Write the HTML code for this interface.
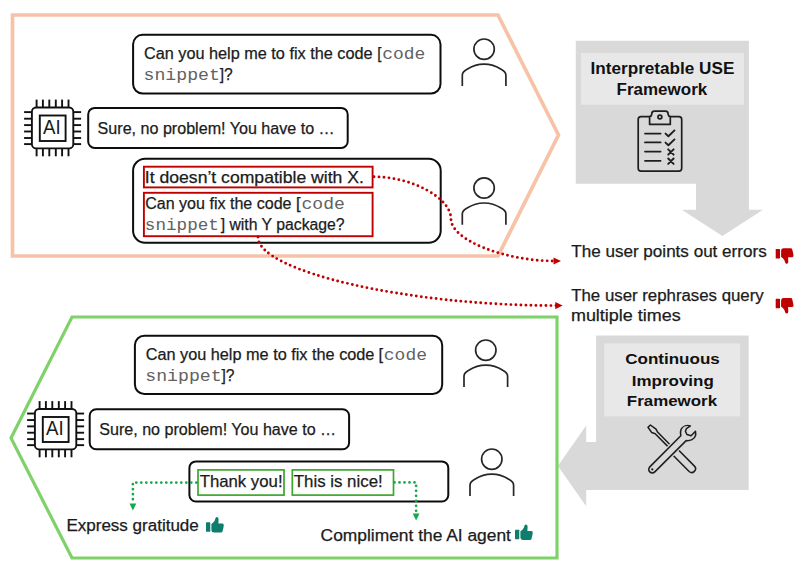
<!DOCTYPE html>
<html><head><meta charset="utf-8"><title>Interpretable USE Framework</title>
<style>
html,body{margin:0;padding:0;background:#fff;}
body{width:802px;height:571px;overflow:hidden;font-family:"Liberation Sans", sans-serif;}
svg{display:block;}
</style></head><body>
<svg width="802" height="571" viewBox="0 0 802 571">
<rect width="802" height="571" fill="#fff"/>
<polygon points="575.8,40.8 748.9,40.8 748.9,209.8 763,209.8 722.4,236 681.8,209.8 696,209.8 696,183.8 575.8,183.8" fill="#D9D9D9"/>
<rect x="580.9" y="52.9" width="163" height="51.8" fill="#E8E8E8"/>
<polygon points="596.1,335.4 748.7,335.4 748.7,489.9 586.2,489.9 586.2,506.3 557.9,465.9 586.2,425.5 586.2,442.1 596.1,442.1" fill="#D9D9D9"/>
<rect x="604.2" y="343.4" width="135.8" height="73" fill="#E8E8E8"/>
<polygon points="12.5,15 498,15 558.5,135 498,256 12.5,256" fill="none" stroke="#F6C3A8" stroke-width="3.7"/>
<polygon points="72,317 557,317 557,558 72,558 11,438" fill="none" stroke="#7FD26A" stroke-width="3.2"/>
<rect x="133.1" y="34.8" width="307.40" height="58.70" rx="9.5" fill="#fff" stroke="#0d0d0d" stroke-width="2"/>
<rect x="88.2" y="107.9" width="259.50" height="40.00" rx="6.5" fill="#fff" stroke="#0d0d0d" stroke-width="2"/>
<rect x="133.1" y="158.8" width="307.60" height="84.00" rx="12" fill="#fff" stroke="#0d0d0d" stroke-width="2"/>
<rect x="134.9" y="335.7" width="307.30" height="58.40" rx="9.5" fill="#fff" stroke="#0d0d0d" stroke-width="2"/>
<rect x="89.7" y="409.2" width="259.40" height="40.10" rx="6.5" fill="#fff" stroke="#0d0d0d" stroke-width="2"/>
<rect x="189.4" y="461.4" width="258.90" height="40.10" rx="6.5" fill="#fff" stroke="#0d0d0d" stroke-width="2"/>
<rect x="143.9" y="166.7" width="228.70" height="20.70" fill="none" stroke="#C00000" stroke-width="1.9"/>
<rect x="143.9" y="192.8" width="228.70" height="43.40" fill="none" stroke="#C00000" stroke-width="1.9"/>
<rect x="198" y="469.9" width="86.00" height="25.20" fill="none" stroke="#3CA62E" stroke-width="1.7"/>
<rect x="292.3" y="469.9" width="101.20" height="25.20" fill="none" stroke="#3CA62E" stroke-width="1.7"/>
<g stroke="#111" fill="none" stroke-width="1.9"><rect x="31.9" y="107.5" width="41.4" height="40.9" rx="4.2"/><rect x="39.8" y="115.5" width="25.80" height="25.50"/><line x1="36.60" y1="99.6" x2="36.60" y2="107.5"/><line x1="36.60" y1="148.4" x2="36.60" y2="156.3"/><line x1="42.90" y1="99.6" x2="42.90" y2="107.5"/><line x1="42.90" y1="148.4" x2="42.90" y2="156.3"/><line x1="49.30" y1="99.6" x2="49.30" y2="107.5"/><line x1="49.30" y1="148.4" x2="49.30" y2="156.3"/><line x1="55.80" y1="99.6" x2="55.80" y2="107.5"/><line x1="55.80" y1="148.4" x2="55.80" y2="156.3"/><line x1="62.10" y1="99.6" x2="62.10" y2="107.5"/><line x1="62.10" y1="148.4" x2="62.10" y2="156.3"/><line x1="68.50" y1="99.6" x2="68.50" y2="107.5"/><line x1="68.50" y1="148.4" x2="68.50" y2="156.3"/><line x1="24.099999999999998" y1="112.10" x2="31.9" y2="112.10"/><line x1="73.3" y1="112.10" x2="81.1" y2="112.10"/><line x1="24.099999999999998" y1="118.70" x2="31.9" y2="118.70"/><line x1="73.3" y1="118.70" x2="81.1" y2="118.70"/><line x1="24.099999999999998" y1="125.10" x2="31.9" y2="125.10"/><line x1="73.3" y1="125.10" x2="81.1" y2="125.10"/><line x1="24.099999999999998" y1="131.50" x2="31.9" y2="131.50"/><line x1="73.3" y1="131.50" x2="81.1" y2="131.50"/><line x1="24.099999999999998" y1="138.00" x2="31.9" y2="138.00"/><line x1="73.3" y1="138.00" x2="81.1" y2="138.00"/><line x1="24.099999999999998" y1="144.10" x2="31.9" y2="144.10"/><line x1="73.3" y1="144.10" x2="81.1" y2="144.10"/></g><text x="43.00" y="133.60" font-family='"Liberation Sans", sans-serif' font-size="19.8" fill="#1a1a1a" textLength="17.67" lengthAdjust="spacingAndGlyphs" >AI</text>
<g stroke="#111" fill="none" stroke-width="1.9"><rect x="34.9" y="409" width="41.4" height="40.4" rx="4.2"/><rect x="42.8" y="417" width="25.80" height="25.00"/><line x1="39.60" y1="401.1" x2="39.60" y2="409"/><line x1="39.60" y1="449.4" x2="39.60" y2="457.29999999999995"/><line x1="45.90" y1="401.1" x2="45.90" y2="409"/><line x1="45.90" y1="449.4" x2="45.90" y2="457.29999999999995"/><line x1="52.30" y1="401.1" x2="52.30" y2="409"/><line x1="52.30" y1="449.4" x2="52.30" y2="457.29999999999995"/><line x1="58.80" y1="401.1" x2="58.80" y2="409"/><line x1="58.80" y1="449.4" x2="58.80" y2="457.29999999999995"/><line x1="65.10" y1="401.1" x2="65.10" y2="409"/><line x1="65.10" y1="449.4" x2="65.10" y2="457.29999999999995"/><line x1="71.50" y1="401.1" x2="71.50" y2="409"/><line x1="71.50" y1="449.4" x2="71.50" y2="457.29999999999995"/><line x1="27.099999999999998" y1="413.55" x2="34.9" y2="413.55"/><line x1="76.3" y1="413.55" x2="84.1" y2="413.55"/><line x1="27.099999999999998" y1="420.06" x2="34.9" y2="420.06"/><line x1="76.3" y1="420.06" x2="84.1" y2="420.06"/><line x1="27.099999999999998" y1="426.38" x2="34.9" y2="426.38"/><line x1="76.3" y1="426.38" x2="84.1" y2="426.38"/><line x1="27.099999999999998" y1="432.71" x2="34.9" y2="432.71"/><line x1="76.3" y1="432.71" x2="84.1" y2="432.71"/><line x1="27.099999999999998" y1="439.13" x2="34.9" y2="439.13"/><line x1="76.3" y1="439.13" x2="84.1" y2="439.13"/><line x1="27.099999999999998" y1="445.15" x2="34.9" y2="445.15"/><line x1="76.3" y1="445.15" x2="84.1" y2="445.15"/></g><text x="46.00" y="435.10" font-family='"Liberation Sans", sans-serif' font-size="19.8" fill="#1a1a1a" textLength="17.67" lengthAdjust="spacingAndGlyphs" >AI</text>
<g fill="none" stroke="#262626" stroke-width="1.7"><circle cx="484.1" cy="49.2" r="10.2"/><path d="M462.3,86.0 V75.2 Q462.3,71.7 467.1,69.2 Q475.1,64.2 484.1,64.2 Q493.1,64.2 501.1,69.2 Q505.90000000000003,71.7 505.90000000000003,75.2 V86.0"/></g>
<g fill="none" stroke="#262626" stroke-width="1.7"><circle cx="484.1" cy="188" r="10.2"/><path d="M462.3,224.8 V214 Q462.3,210.5 467.1,208 Q475.1,203 484.1,203 Q493.1,203 501.1,208 Q505.90000000000003,210.5 505.90000000000003,214 V224.8"/></g>
<g fill="none" stroke="#262626" stroke-width="1.7"><circle cx="485.8" cy="350.2" r="10.2"/><path d="M464.0,387.0 V376.2 Q464.0,372.7 468.8,370.2 Q476.8,365.2 485.8,365.2 Q494.8,365.2 502.8,370.2 Q507.6,372.7 507.6,376.2 V387.0"/></g>
<g fill="none" stroke="#262626" stroke-width="1.7"><circle cx="491.8" cy="459.2" r="10.2"/><path d="M470.0,496.0 V485.2 Q470.0,481.7 474.8,479.2 Q482.8,474.2 491.8,474.2 Q500.8,474.2 508.8,479.2 Q513.6,481.7 513.6,485.2 V496.0"/></g>
<text x="143.99" y="58.60" font-family='"Liberation Sans", sans-serif' font-size="16" stroke="#1b1b1b" stroke-width="0.25" fill="#1b1b1b" textLength="228.53" lengthAdjust="spacingAndGlyphs" >Can you help me to fix the code</text>
<text x="377.35" y="58.60" font-family='"Liberation Sans", sans-serif' font-size="16" stroke="#1b1b1b" stroke-width="0.25" fill="#1b1b1b" textLength="4.17" lengthAdjust="spacingAndGlyphs" >[</text>
<text x="382.23" y="58.60" font-family='"Liberation Mono", monospace' font-size="17" fill="#626262" textLength="43.04" lengthAdjust="spacingAndGlyphs" >code</text>
<text x="143.55" y="80.20" font-family='"Liberation Mono", monospace' font-size="17" fill="#626262" textLength="76.37" lengthAdjust="spacingAndGlyphs" >snippet</text>
<text x="219.72" y="80.20" font-family='"Liberation Sans", sans-serif' font-size="16" stroke="#1b1b1b" stroke-width="0.25" fill="#1b1b1b" textLength="13.01" lengthAdjust="spacingAndGlyphs" >]?</text>
<text x="97.58" y="134.00" font-family='"Liberation Sans", sans-serif' font-size="16" stroke="#1b1b1b" stroke-width="0.25" fill="#1b1b1b" textLength="237.13" lengthAdjust="spacingAndGlyphs" >Sure, no problem! You have to …</text>
<text x="144.82" y="182.60" font-family='"Liberation Sans", sans-serif' font-size="16.5" stroke="#1b1b1b" stroke-width="0.25" fill="#1b1b1b" textLength="219.08" lengthAdjust="spacingAndGlyphs" >It doesn’t compatible with X.</text>
<text x="145.20" y="208.50" font-family='"Liberation Sans", sans-serif' font-size="16" stroke="#1b1b1b" stroke-width="0.25" fill="#1b1b1b" textLength="146.35" lengthAdjust="spacingAndGlyphs" >Can you fix the code</text>
<text x="296.14" y="208.50" font-family='"Liberation Sans", sans-serif' font-size="16" stroke="#1b1b1b" stroke-width="0.25" fill="#1b1b1b" textLength="4.58" lengthAdjust="spacingAndGlyphs" >[</text>
<text x="301.53" y="208.50" font-family='"Liberation Mono", monospace' font-size="17" fill="#626262" textLength="43.35" lengthAdjust="spacingAndGlyphs" >code</text>
<text x="144.89" y="230.30" font-family='"Liberation Mono", monospace' font-size="17" fill="#626262" textLength="73.97" lengthAdjust="spacingAndGlyphs" >snippet</text>
<text x="220.72" y="230.30" font-family='"Liberation Sans", sans-serif' font-size="16" stroke="#1b1b1b" stroke-width="0.25" fill="#1b1b1b" textLength="123.87" lengthAdjust="spacingAndGlyphs" >] with Y package?</text>
<text x="145.69" y="359.60" font-family='"Liberation Sans", sans-serif' font-size="16" stroke="#1b1b1b" stroke-width="0.25" fill="#1b1b1b" textLength="228.73" lengthAdjust="spacingAndGlyphs" >Can you help me to fix the code</text>
<text x="378.64" y="359.60" font-family='"Liberation Sans", sans-serif' font-size="16" stroke="#1b1b1b" stroke-width="0.25" fill="#1b1b1b" textLength="4.58" lengthAdjust="spacingAndGlyphs" >[</text>
<text x="383.83" y="359.60" font-family='"Liberation Mono", monospace' font-size="17" fill="#626262" textLength="43.14" lengthAdjust="spacingAndGlyphs" >code</text>
<text x="145.24" y="381.10" font-family='"Liberation Mono", monospace' font-size="17" fill="#626262" textLength="76.48" lengthAdjust="spacingAndGlyphs" >snippet</text>
<text x="221.52" y="381.10" font-family='"Liberation Sans", sans-serif' font-size="16" stroke="#1b1b1b" stroke-width="0.25" fill="#1b1b1b" textLength="13.01" lengthAdjust="spacingAndGlyphs" >]?</text>
<text x="99.28" y="435.00" font-family='"Liberation Sans", sans-serif' font-size="16" stroke="#1b1b1b" stroke-width="0.25" fill="#1b1b1b" textLength="236.93" lengthAdjust="spacingAndGlyphs" >Sure, no problem! You have to …</text>
<text x="199.66" y="487.40" font-family='"Liberation Sans", sans-serif' font-size="17" stroke="#1b1b1b" stroke-width="0.25" fill="#1b1b1b" textLength="82.88" lengthAdjust="spacingAndGlyphs" >Thank you!</text>
<text x="293.76" y="487.40" font-family='"Liberation Sans", sans-serif' font-size="17" stroke="#1b1b1b" stroke-width="0.25" fill="#1b1b1b" textLength="88.93" lengthAdjust="spacingAndGlyphs" >This is nice!</text>
<text x="66.44" y="531.40" font-family='"Liberation Sans", sans-serif' font-size="16" stroke="#1b1b1b" stroke-width="0.25" fill="#1b1b1b" textLength="132.36" lengthAdjust="spacingAndGlyphs" >Express gratitude</text>
<text x="320.63" y="540.90" font-family='"Liberation Sans", sans-serif' font-size="16" stroke="#1b1b1b" stroke-width="0.25" fill="#1b1b1b" textLength="190.27" lengthAdjust="spacingAndGlyphs" >Compliment the AI agent</text>
<text x="571.26" y="257.20" font-family='"Liberation Sans", sans-serif' font-size="16" stroke="#1b1b1b" stroke-width="0.25" fill="#1b1b1b" textLength="195.44" lengthAdjust="spacingAndGlyphs" >The user points out errors</text>
<text x="571.26" y="300.60" font-family='"Liberation Sans", sans-serif' font-size="16" stroke="#1b1b1b" stroke-width="0.25" fill="#1b1b1b" textLength="192.45" lengthAdjust="spacingAndGlyphs" >The user rephrases query</text>
<text x="570.93" y="321.20" font-family='"Liberation Sans", sans-serif' font-size="16" stroke="#1b1b1b" stroke-width="0.25" fill="#1b1b1b" textLength="109.76" lengthAdjust="spacingAndGlyphs" >multiple times</text>
<text x="590.59" y="73.60" font-family='"Liberation Sans", sans-serif' font-size="15.6" font-weight="bold" fill="#111" textLength="143.74" lengthAdjust="spacingAndGlyphs" >Interpretable USE</text>
<text x="616.60" y="94.80" font-family='"Liberation Sans", sans-serif' font-size="15.6" font-weight="bold" fill="#111" textLength="90.61" lengthAdjust="spacingAndGlyphs" >Framework</text>
<text x="625.22" y="363.90" font-family='"Liberation Sans", sans-serif' font-size="15.5" font-weight="bold" fill="#111" textLength="94.55" lengthAdjust="spacingAndGlyphs" >Continuous</text>
<text x="631.80" y="385.50" font-family='"Liberation Sans", sans-serif' font-size="15.5" font-weight="bold" fill="#111" textLength="81.98" lengthAdjust="spacingAndGlyphs" >Improving</text>
<text x="626.80" y="406.40" font-family='"Liberation Sans", sans-serif' font-size="15.5" font-weight="bold" fill="#111" textLength="90.31" lengthAdjust="spacingAndGlyphs" >Framework</text>
<g fill="#C00000" transform="translate(775.7,248)"><rect x="0" y="1" width="4.3" height="9.5" rx="0.6"/><path d="M5.4,2.6 Q5.4,0.2 7.9,0.2 L15.4,0.2 Q16.3,0.4 16.6,1.8 L17.3,4.6 L17.8,7.6 Q17.8,9.2 16.4,9.3 L12.4,9.3 L12.6,13.9 Q12.4,15.8 10.7,15.8 Q9.6,15.6 9.4,14.2 Q8.9,11.6 7.2,10.2 L5.4,8.9 Z"/></g>
<g fill="#C00000" transform="translate(775.7,297.8)"><rect x="0" y="1" width="4.3" height="9.5" rx="0.6"/><path d="M5.4,2.6 Q5.4,0.2 7.9,0.2 L15.4,0.2 Q16.3,0.4 16.6,1.8 L17.3,4.6 L17.8,7.6 Q17.8,9.2 16.4,9.3 L12.4,9.3 L12.6,13.9 Q12.4,15.8 10.7,15.8 Q9.6,15.6 9.4,14.2 Q8.9,11.6 7.2,10.2 L5.4,8.9 Z"/></g>
<g fill="#0E7D6C" transform="translate(206,532.8) scale(1,-1)"><rect x="0" y="1" width="4.3" height="9.5" rx="0.6"/><path d="M5.4,2.6 Q5.4,0.2 7.9,0.2 L15.4,0.2 Q16.3,0.4 16.6,1.8 L17.3,4.6 L17.8,7.6 Q17.8,9.2 16.4,9.3 L12.4,9.3 L12.6,13.9 Q12.4,15.8 10.7,15.8 Q9.6,15.6 9.4,14.2 Q8.9,11.6 7.2,10.2 L5.4,8.9 Z"/></g>
<g fill="#0E7D6C" transform="translate(515,540.2) scale(1,-1)"><rect x="0" y="1" width="4.3" height="9.5" rx="0.6"/><path d="M5.4,2.6 Q5.4,0.2 7.9,0.2 L15.4,0.2 Q16.3,0.4 16.6,1.8 L17.3,4.6 L17.8,7.6 Q17.8,9.2 16.4,9.3 L12.4,9.3 L12.6,13.9 Q12.4,15.8 10.7,15.8 Q9.6,15.6 9.4,14.2 Q8.9,11.6 7.2,10.2 L5.4,8.9 Z"/></g>
<path d="M374,176.8 C412,176.8 451,198 451,219 C451,240.5 506,261 554,261" fill="none" stroke="#C00000" stroke-width="2.9" stroke-dasharray="0 5" stroke-linecap="round"/>
<polygon points="561,261 553.5,257.5 553.5,264.5" fill="#C00000"/>
<path d="M258,237 C258,271.5 407,305.6 556,305.6" fill="none" stroke="#C00000" stroke-width="2.9" stroke-dasharray="0 5" stroke-linecap="round"/>
<polygon points="562.6,305.6 555.3,302 555.3,309.2" fill="#C00000"/>
<path d="M136.3,482.5 H198.5" fill="none" stroke="#14A94A" stroke-width="2.75" stroke-dasharray="0 5" stroke-linecap="round"/>
<path d="M132.9,484.2 V501.5" fill="none" stroke="#14A94A" stroke-width="2.75" stroke-dasharray="0 5" stroke-linecap="round"/>
<polygon points="132.9,510.6 129.5,503.5 136.3,503.5" fill="#14A94A"/>
<path d="M394.5,482.4 H417" fill="none" stroke="#14A94A" stroke-width="2.75" stroke-dasharray="0 5" stroke-linecap="round"/>
<path d="M416.1,485.8 V512" fill="none" stroke="#14A94A" stroke-width="2.75" stroke-dasharray="0 5" stroke-linecap="round"/>
<polygon points="416.1,520.4 412.7,513.5 419.5,513.5" fill="#14A94A"/>
<g fill="none" stroke="#1e1e1e" stroke-width="1.7" stroke-linecap="round" stroke-linejoin="round">
<rect x="638.2" y="116.7" width="43.5" height="54.4" rx="2.8"/>
<path d="M649.6,124.4 V116.7 Q651.2,116.6 651.5,115 L651.8,113.6 Q652,111.2 654.3,111.2 L665.6,111.2 Q667.9,111.2 668.1,113.6 L668.4,115 Q668.7,116.6 670.3,116.7 V124.4 Z" fill="#D9D9D9"/>
<circle cx="659.9" cy="117" r="1.95"/>
<path d="M645,133.6 H660.6 M645,142.4 H660.6 M645,151.6 H660.6 M645,160.8 H660.6" stroke-width="1.8"/>
<path d="M665.5,133.6 L668.4,136.3 L674.5,130.4 M665.5,142.6 L668.4,145.3 L674.5,139.4" stroke-width="1.9"/>
<path d="M668.2,149.3 L673.6,154.7 M673.6,149.3 L668.2,154.7 M668.2,158.5 L673.6,163.9 M673.6,158.5 L668.2,163.9" stroke-width="1.9"/>
</g>
<g stroke-linejoin="round" stroke-linecap="round">
<path d="M650.4,425.0 L656.0,429.2 L657.5,432.0 L673.5,448.2 L677.5,449.0 L694.45,466.15 A3.75,3.75 0 0 1 689.15,471.45 L671.3,453.5 L668.7,447.4 L655.2,433.7 L651.8,432.6 L648.0,427.3 Z" fill="#D9D9D9" stroke="#1e1e1e" stroke-width="1.55"/>
<path d="M680.8,435.7 L649.8,466.9 A3.5,3.5 0 0 0 654.8,471.9 L686.2,440.6 C690,441 694.5,439.5 695.7,435 L695.5,431.3 L691.1,435.7 L686.9,434.5 L685.4,431.2 L686.4,428.6 L690.4,425.9 C687,424.8 683,425.8 681.2,429.2 C680.2,431.3 680.4,433.8 680.8,435.7 Z" fill="#D9D9D9" stroke="#D9D9D9" stroke-width="4"/>
<path d="M680.8,435.7 L649.8,466.9 A3.5,3.5 0 0 0 654.8,471.9 L686.2,440.6 C690,441 694.5,439.5 695.7,435 L695.5,431.3 L691.1,435.7 L686.9,434.5 L685.4,431.2 L686.4,428.6 L690.4,425.9 C687,424.8 683,425.8 681.2,429.2 C680.2,431.3 680.4,433.8 680.8,435.7 Z" fill="#D9D9D9" stroke="#1e1e1e" stroke-width="1.55"/>
<circle cx="652.3" cy="469.4" r="1.1" fill="#1e1e1e"/>
</g>
</svg>
</body></html>
